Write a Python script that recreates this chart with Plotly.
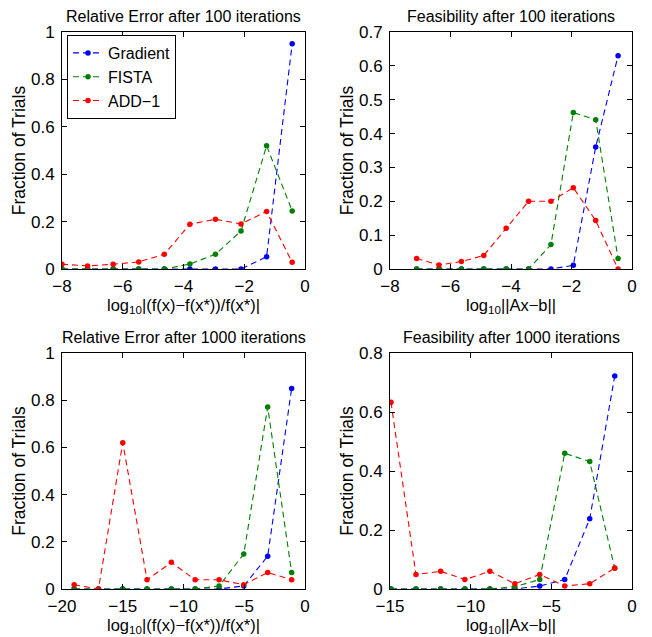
import plotly.graph_objects as go

# Histogram bin centres (log10 scale) and fraction of trials per method
re100_x = [-8.0, -7.158, -6.316, -5.474, -4.632, -3.79, -2.948, -2.106, -1.264, -0.422]
re100_gradient = [0, 0, 0, 0, 0, 0, 0, 0, 0.052, 0.95]
re100_fista = [0, 0, 0, 0, 0, 0.021, 0.062, 0.16, 0.52, 0.245]
re100_add1 = [0.02, 0.013, 0.02, 0.03, 0.062, 0.189, 0.21, 0.19, 0.243, 0.028]

fe100_x = [-7.12, -6.38, -5.64, -4.90, -4.16, -3.42, -2.68, -1.94, -1.20, -0.46]
fe100_gradient = [0, 0, 0, 0, 0, 0, 0, 0.011, 0.36, 0.63]
fe100_fista = [0, 0, 0, 0, 0, 0, 0.072, 0.462, 0.441, 0.031]
fe100_add1 = [0.031, 0.012, 0.022, 0.04, 0.12, 0.2, 0.2, 0.24, 0.143, 0.0]

re1000_x = [-19.0, -17.0, -15.0, -13.0, -11.0, -9.04, -7.07, -5.04, -3.07, -1.1]
re1000_gradient = [0, 0, 0, 0, 0, 0, 0, 0.013, 0.139, 0.85]
re1000_fista = [0, 0, 0, 0, 0, 0, 0.013, 0.148, 0.771, 0.07]
re1000_add1 = [0.018, 0, 0.62, 0.039, 0.113, 0.039, 0.039, 0.018, 0.07, 0.039]

fe1000_x = [-14.94, -13.39, -11.86, -10.36, -8.81, -7.26, -5.72, -4.17, -2.62, -1.07]
fe1000_gradient = [0, 0, 0, 0, 0, 0, 0.01, 0.032, 0.238, 0.722]
fe1000_fista = [0, 0, 0, 0, 0, 0.008, 0.032, 0.46, 0.432, 0.07]
fe1000_add1 = [0.633, 0.049, 0.06, 0.032, 0.06, 0.018, 0.049, 0.01, 0.018, 0.071]

titles = ["Relative Error after 100 iterations", "Feasibility after 100 iterations",
          "Relative Error after 1000 iterations", "Feasibility after 1000 iterations"]
xlabel_rel = "log<sub>10</sub>|(f(x)\u2212f(x*))/f(x*)|"
xlabel_feas = "log<sub>10</sub>||Ax\u2212b||"

names = ["Gradient", "FISTA", "ADD\u22121"]
colors = ["#0000ff", "#008000", "#ff0000"]

panels = [
    (re100_x, [re100_gradient, re100_fista, re100_add1], [-8, 0], [-8, -6, -4, -2, 0], [0, 1], [0, 0.2, 0.4, 0.6, 0.8, 1], xlabel_rel),
    (fe100_x, [fe100_gradient, fe100_fista, fe100_add1], [-8, 0], [-8, -6, -4, -2, 0], [0, 0.7], [0, 0.1, 0.2, 0.3, 0.4, 0.5, 0.6, 0.7], xlabel_feas),
    (re1000_x, [re1000_gradient, re1000_fista, re1000_add1], [-20, 0], [-20, -15, -10, -5, 0], [0, 1], [0, 0.2, 0.4, 0.6, 0.8, 1], xlabel_rel),
    (fe1000_x, [fe1000_gradient, fe1000_fista, fe1000_add1], [-15, 0], [-15, -10, -5, 0], [0, 0.8], [0, 0.2, 0.4, 0.6, 0.8], xlabel_feas),
]

W, H = 652, 637
col_px = [(62, 305), (390, 632)]
row_px = [(32, 269), (353, 589)]

FONT = "Liberation Sans, Arial, Helvetica, sans-serif"
fig = go.Figure()
layout = {}
annotations = []

for i, (xs, series, xr, xt, yr, yt, xlab) in enumerate(panels):
    r, c = divmod(i, 2)
    x0, x1 = col_px[c]
    y0, y1 = row_px[r]
    ax = "" if i == 0 else str(i + 1)
    for k in range(3):
        fig.add_trace(go.Scatter(
            x=xs, y=series[k], name=names[k], mode="lines+markers",
            line=dict(color=colors[k], width=1.1, dash="6px,4px"),
            marker=dict(color=colors[k], size=5.5),
            showlegend=(i == 0), xaxis="x" + ax, yaxis="y" + ax,
        ))
    common = dict(showline=True, linecolor="black", linewidth=1, mirror="ticks",
                  ticks="inside", ticklen=5, tickcolor="black", showgrid=False,
                  zeroline=False, tickfont=dict(size=17, color="black", family=FONT),
                  automargin=False)
    layout["xaxis" + ax] = dict(common, domain=[x0 / W, x1 / W], range=xr, tickvals=xt,
                                anchor="y" + ax, ticklabelstandoff=2)
    layout["yaxis" + ax] = dict(common, domain=[1 - y1 / H, 1 - y0 / H], range=yr, tickvals=yt,
                                anchor="x" + ax, ticklabelstandoff=3,
                                title=dict(text="Fraction of Trials", font=dict(size=17.5, color="black", family=FONT), standoff=0))
    # panel title
    annotations.append(dict(text=titles[i], x=(x0 + x1) / 2 / W, y=1 - (y0 - 16) / H,
                            xref="paper", yref="paper", showarrow=False,
                            xanchor="center", yanchor="middle",
                            font=dict(size=16, color="black", family=FONT)))
    # x-axis label below the tick labels
    annotations.append(dict(text=xlab, x=(x0 + x1) / 2 / W, y=1 - (y1 + 25) / H,
                            xref="paper", yref="paper", showarrow=False,
                            xanchor="center", yanchor="top",
                            font=dict(size=16.5, color="black", family=FONT)))

fig.update_layout(
    **layout,
    annotations=annotations,
    width=W, height=H,
    margin=dict(l=0, r=0, t=0, b=0),
    paper_bgcolor="white", plot_bgcolor="white",
    font=dict(family=FONT, color="black"),
    legend=dict(x=67 / W, y=1 - 35 / H, xanchor="left", yanchor="top",
                bordercolor="black", borderwidth=1, bgcolor="white",
                font=dict(size=16, color="black", family=FONT),
                tracegroupgap=0, itemwidth=30),
)

fig.write_html("out.html")
